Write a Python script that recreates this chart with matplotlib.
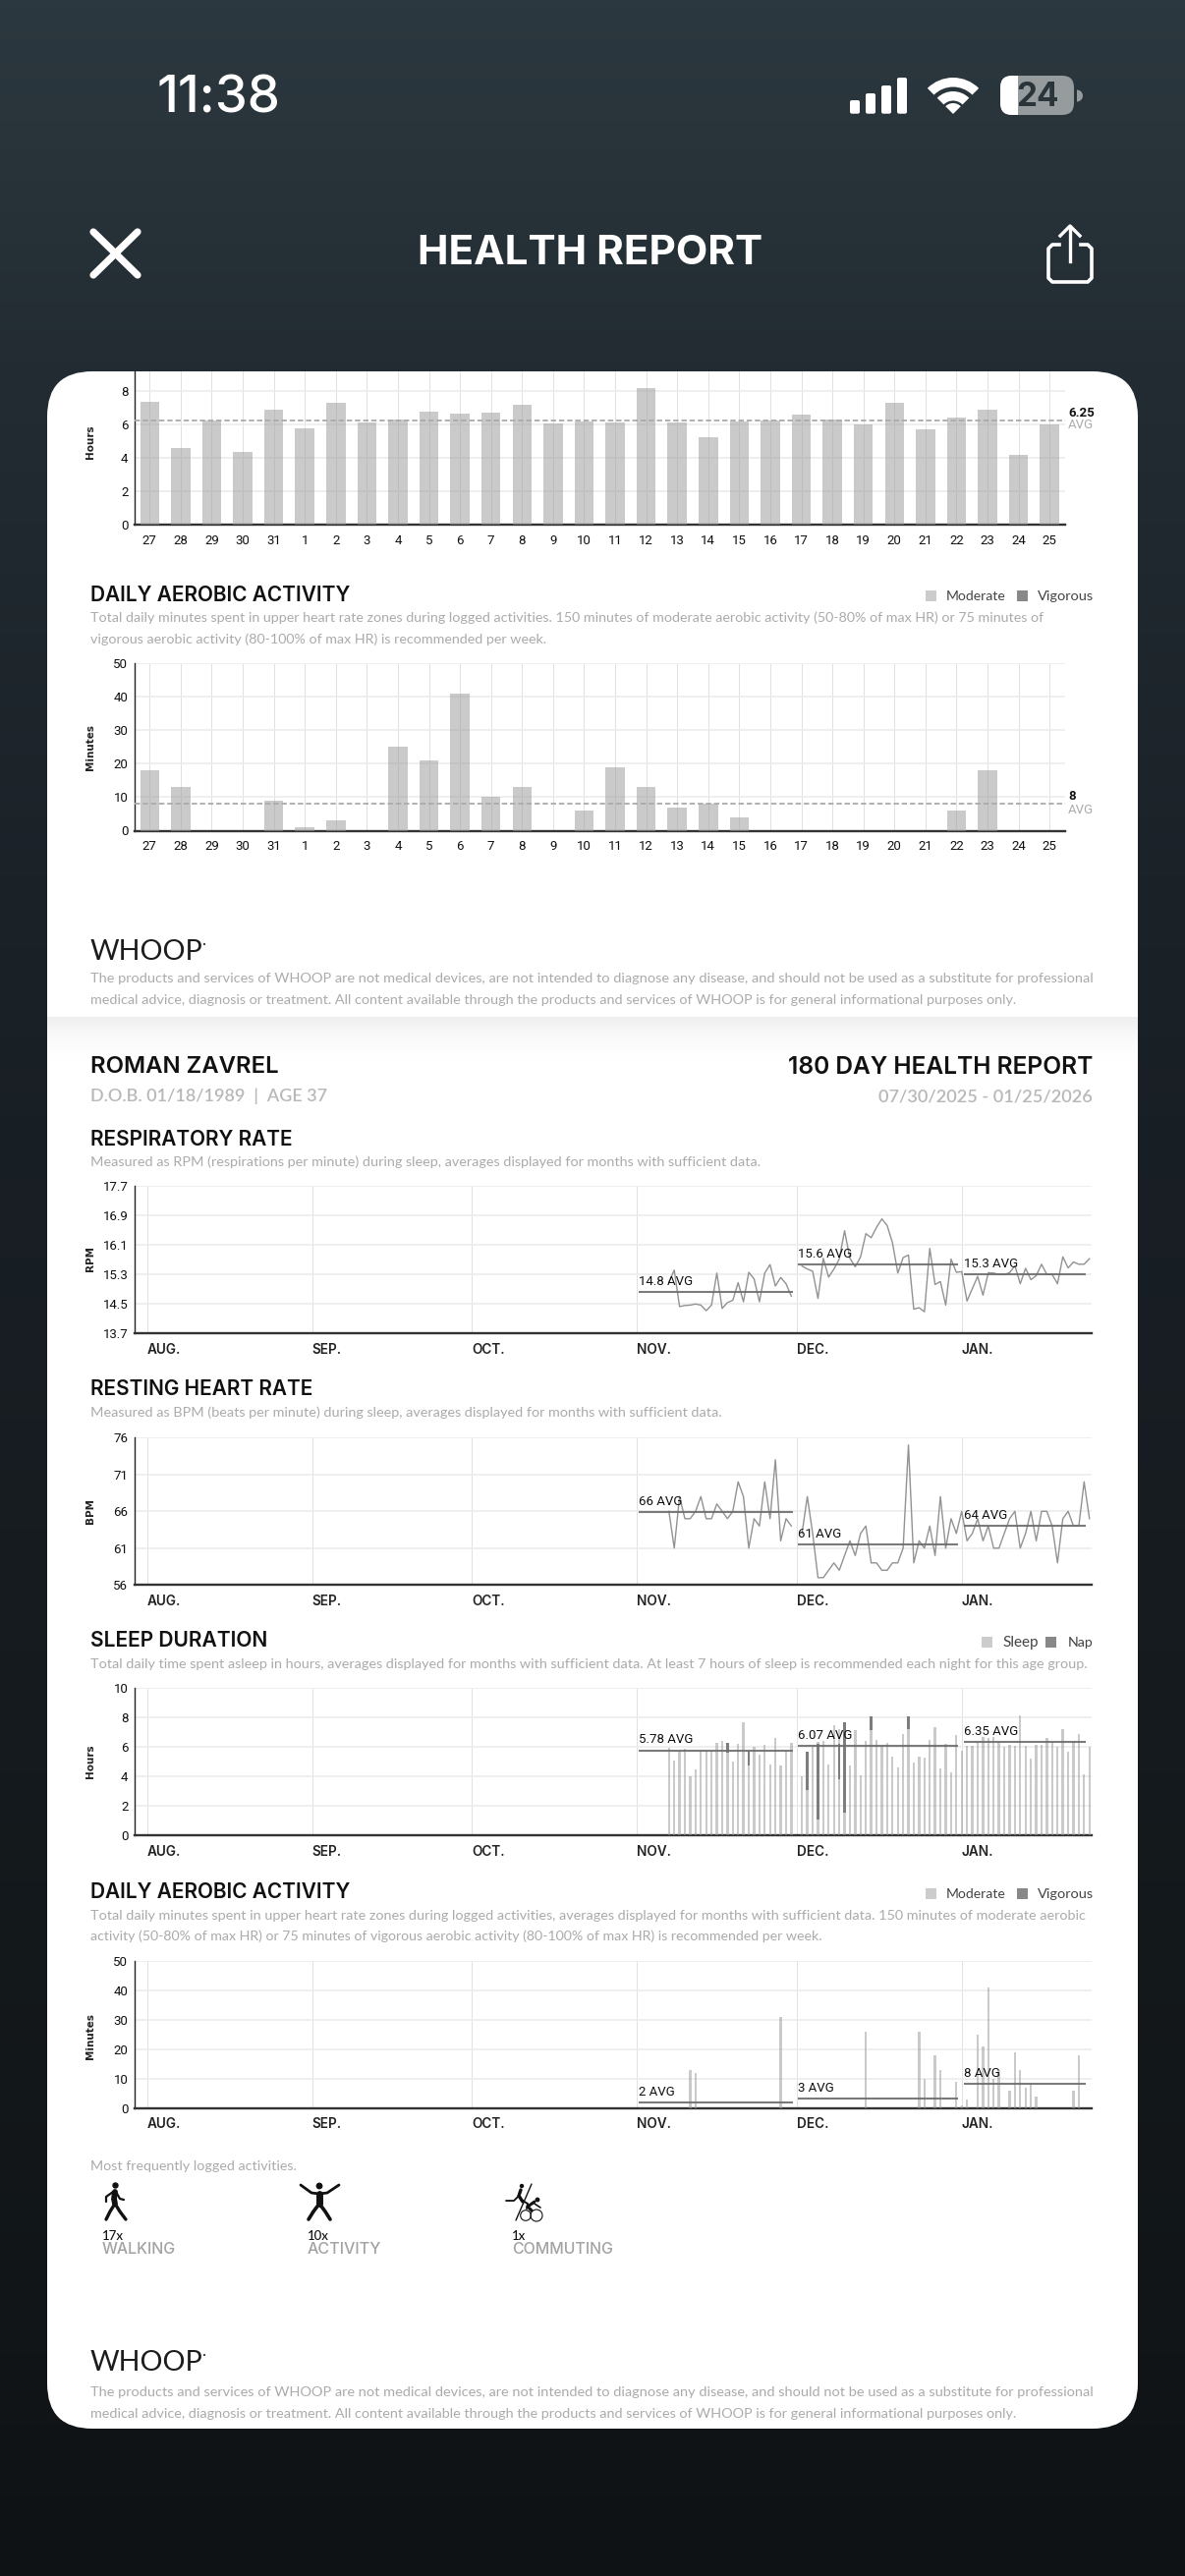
import numpy as np
import matplotlib
matplotlib.use("Agg")
import matplotlib.pyplot as plt
from matplotlib import font_manager as fm
from matplotlib.patches import FancyBboxPatch, Rectangle, Wedge, Circle
from matplotlib.colors import LinearSegmentedColormap

# ---------------- data ----------------
day_labels = [27,28,29,30,31,1,2,3,4,5,6,7,8,9,10,11,12,13,14,15,16,17,18,19,20,21,22,23,24,25]
hours_30 = [7.34,4.56,6.25,4.33,6.85,5.75,7.3,6.09,6.3,6.75,6.65,6.73,7.16,6.03,6.19,6.09,8.17,6.13,5.24,6.15,6.23,6.6,6.29,6.01,7.26,5.71,6.43,6.87,4.17,6.01]
aerobic_30 = [18,13,0,0,9,1,3,0,25,21,41,10,13,0,6,19,13,7,8,4,0,0,0,0,0,0,6,18,0,0]

month_labels = ["AUG.","SEP.","OCT.","NOV.","DEC.","JAN."]
month_days = [0,31,61,92,122,153]
avg_spans = [(92.4,121.3),(122.3,152.3),(153.35,176.3)]

resp_nov = [15.10,15.42,14.43,14.46,14.47,14.5,14.47,14.32,14.47,15.34,14.38,14.54,14.6,15.08,14.56,15.36,15.18,14.56,15.34,15.57,14.99,15.22,15.05,14.71]
resp_rest = [15.53,15.45,15.39,14.65,15.74,15.23,15.45,15.72,16.49,15.74,15.51,15.78,16.41,16.30,16.58,16.81,16.63,16.16,15.34,15.76,15.83,14.36,14.40,14.29,16.01,15.03,15.11,14.47,15.72,15.36,15.38,14.58,14.92,15.25,14.74,15.35,15.34,15.3,15.3,15.35,15.54,15.05,15.47,15.16,15.27,15.58,15.3,15.3,15.05,15.78,15.48,15.64,15.58,15.58,15.73]
resp_avg = [14.83,15.58,15.3]
resp_avg_labels = ["14.8 AVG","15.6 AVG","15.3 AVG"]
resp_ticks = [13.7,14.5,15.3,16.1,16.9,17.7]

hr_nov = [66,61,68,65,65,66,68,65,65,67,66,65,66,70,68,61,65,64,70,65,73,62,65,64]
hr_rest = [63,68,63,57,57,58,59,58,60,62,60,63,64,59,59,58,58,59,59,61,75,59,62,61,64,60,68,61,65,63,66,62,63,65,62,64,61,61,63,65,66,61,63,66,62,66,66,64,59,65,66,64,64,70,65]
hr_avg = [65.9,61.5,64]
hr_avg_labels = ["66 AVG","61 AVG","64 AVG"]
hr_ticks = [56,61,66,71,76]

sleep_nov = [5.93,5.07,5.73,5.89,4.04,4.49,5.78,5.78,5.78,6.31,6.44,6.29,5.02,6.22,7.67,5.73,6.0,5.47,6.16,4.82,6.6,4.73,5.78,6.31]
sleep_rest = [4.04,5.67,6.0,6.33,6.44,4.8,7.49,7.22,7.67,4.73,7.13,4.09,6.42,7.16,6.47,6.07,6.31,5.36,4.62,6.89,7.2,4.96,5.36,5.29,6.49,7.33,4.56,6.2,4.29,6.84,5.73,6.11,6.07,6.33,6.67,6.6,6.67,6.44,6.02,6.16,6.07,8.16,6.11,5.22,6.13,6.16,6.6,6.33,6.0,7.24,5.71,6.4,6.87,4.16,6.0]
nap_days = [109,113,124,126,130,131,136,143]
nap_low = [5.6,4.78,3.09,1.07,3.84,1.53,7.18,7.22]
nap_high = [6.29,5.73,5.67,6.22,6.22,7.67,8.09,8.09]
sleep_avg = [5.78,6.07,6.35]
sleep_avg_labels = ["5.78 AVG","6.07 AVG","6.35 AVG"]

aer_days = [102,103,119,135,145,146,148,149,152,153,154,156,157,158,159,160,162,163,164,165,166,167,174,175]
aer_vals = [13,12,31,26,26,10,18,13,9,1,3,25,21,41,10,13,6,19,13,7,8,4,6,18]
aer_avg = [1.9,3.3,8.1]
aer_avg_labels = ["2 AVG","3 AVG","8 AVG"]

activity_counts = ["17x","10x","1x"]
activity_names = ["WALKING","ACTIVITY","COMMUTING"]

# ---------------- page ----------------
W, H = 1206, 2622
fig = plt.figure(figsize=(W/100, H/100), dpi=100)
renderer = fig.canvas.get_renderer()
page = fig.add_axes([0, 0, 1, 1], zorder=0)
page.set_xlim(0, W); page.set_ylim(H, 0); page.axis("off")

stops = [(0,"#2c383f"),(370/H,"#232c33"),(960/H,"#1a2127"),(2400/H,"#111517"),(1,"#0e1214")]
cmap = LinearSegmentedColormap.from_list("bg", stops)
page.imshow(np.linspace(0,1,512)[:,None], cmap=cmap, extent=(0,W,H,0), aspect="auto", zorder=0)
page.set_xlim(0, W); page.set_ylim(H, 0)

page.add_patch(FancyBboxPatch((48+46,378+46),1110-92,2094-92,boxstyle="round,pad=46,rounding_size=46",fc="white",ec="none",zorder=1))
shade = LinearSegmentedColormap.from_list("sh",["#efefef","#fbfbfb","#ffffff"])
page.imshow(np.linspace(0,1,64)[:,None], cmap=shade, extent=(48,1158,1080,1035), aspect="auto", zorder=1.5)
page.set_xlim(0, W); page.set_ylim(H, 0)

LATO, ROBOTO, INTER = "Lato", "Roboto", "Inter"
try:
    fm.findfont("Liberation Sans Narrow", fallback_to_default=False)
    NARROW, TICK = "Liberation Sans Narrow", 11
except Exception:
    NARROW, TICK = "Roboto", 9.5

def T(x, y, s, width=None, size=10, color="#111111", weight="normal", family=LATO, ha="left", rot=0, z=5):
    t = page.text(x, y, s, fontsize=size, color=color, fontweight=weight, family=family,
                  ha=ha, va="center", rotation=rot, zorder=z)
    if width is not None:
        w = t.get_window_extent(renderer).width
        t.set_fontsize(size * width / w)
    return t

GREY = "#ababab"
def heading(x, y, s, width, **k): return T(x, y+1.5, s, width=width, size=12, weight="semibold", color="#111111", family=INTER, **k)
def para(y, s, x1): return T(92, y+1, s, width=x1-92, size=8, color=GREY)

def swatch(x, y, c): page.add_patch(Rectangle((x, y-5.5), 11, 11, fc=c, ec="none", zorder=5))

def legend(y, items):
    for sx, c, tx, x1, lab in items:
        swatch(sx, y, c)
        T(tx, y+1, lab, width=x1-tx, size=8, color="#444444")

# status bar
T(159, 101, "11:38", width=126, size=30, color="white", weight="medium", family=INTER)
for x, top in zip([865,881,897,913],[102,95,87,79]):
    page.add_patch(FancyBboxPatch((x+2,top+2),6,115.7-top-4,boxstyle="round,pad=2,rounding_size=2",fc="white",ec="none",zorder=5))
for r, wd in [(37,9.5),(23,9.5)]:
    page.add_patch(Wedge((970,116),r,225,315,width=wd,fc="white",ec="none",zorder=5))
page.add_patch(Wedge((970,116),11,225,315,fc="white",ec="none",zorder=5))
page.add_patch(FancyBboxPatch((1030,89),51,16,boxstyle="round,pad=12,rounding_size=12",fc="#969b9e",ec="none",zorder=5))
bw = FancyBboxPatch((1030,89),51,16,boxstyle="round,pad=12,rounding_size=12",fc="white",ec="none",zorder=5.1)
page.add_patch(bw)
bw.set_clip_path(Rectangle((1015,70),21,55,transform=page.transData))
page.add_patch(Wedge((1096,97.5),6,270,90,fc="#969b9e",ec="none",zorder=5))
T(1056, 98.5, "24", size=24, color="#29343b", weight="bold", family=INTER, ha="center", z=6)

# nav
page.plot([95,140],[236,280],color="white",lw=5.2,solid_capstyle="round",zorder=5)
page.plot([140,95],[236,280],color="white",lw=5.2,solid_capstyle="round",zorder=5)
T(425, 258, "HEALTH REPORT", width=352, size=26, color="white", weight="bold", family=INTER)
page.plot([1078,1071,1067,1067,1071,1107,1111,1111,1107,1100],[249,249,253,283,287,287,283,253,249,249],color="white",lw=2.6,zorder=5)
page.plot([1089,1089],[231,266],color="white",lw=2.4,zorder=5)
page.plot([1079,1089,1099],[240,230,240],color="white",lw=2.4,zorder=5)

def axpx(l, t, r, b):
    a = fig.add_axes([l/W, 1-b/H, (r-l)/W, (b-t)/H], zorder=2)
    a.patch.set_alpha(0)
    for s in ("top","right"): a.spines[s].set_visible(False)
    a.set_axisbelow(True)
    a.spines["left"].set_linewidth(1.0); a.spines["left"].set_color("#222222")
    a.spines["bottom"].set_linewidth(1.7); a.spines["bottom"].set_color("#333333")
    a.tick_params(length=0, pad=4.4, labelcolor="#111111")
    return a

def style_grid(a):
    a.grid(axis="y", color="#ececec", lw=1.2)
    a.grid(axis="x", color="#e1e1e1", lw=0.7)

def ylab(y, s):
    T(92, y, s, size=7.5, color="#222222", family="DejaVu Sans", ha="center", rot=90, weight="bold")

BAR = "#9a9a9a"

def bars30(t, b, vals, ymax, yticks, avg, lab1, lab2, ylabel, ylab_y, ly1, ly2):
    a = axpx(136.5, t, 1084, b)
    x = np.arange(len(vals))
    a.bar(x, vals, width=0.62, color=BAR, alpha=0.52, zorder=3)
    a.axhline(avg, color="#aaaaaa", lw=1.3, ls=(0,(3,1.6)), zorder=4)
    a.set_xlim(-0.5, 29.5); a.set_ylim(0, ymax)
    a.set_xticks(x, [str(d) for d in day_labels], family=NARROW, fontsize=TICK)
    a.set_yticks(yticks, [str(v) for v in yticks], family=NARROW, fontsize=TICK)
    a.tick_params(axis="x", pad=7)
    style_grid(a)
    ylab(ylab_y, ylabel)
    T(1087, ly1, lab1, size=TICK, weight="bold", family=NARROW, color="#111111")
    T(1087, ly2, lab2, size=TICK, color=GREY, family=NARROW)

bars30(378, 534, hours_30, 9.17, [0,2,4,6,8], 6.25, "6.25", "AVG", "Hours", 449.6, 420, 433)

heading(92, 605, "DAILY AEROBIC ACTIVITY", 265)
legend(606, [(942,"#cccccc",963,1024,"Moderate"),(1035,"#888888",1056,1113,"Vigorous")])
para(628, "Total daily minutes spent in upper heart rate zones during logged activities. 150 minutes of moderate aerobic activity (50-80% of max HR) or 75 minutes of", 1066)
para(650, "vigorous aerobic activity (80-100% of max HR) is recommended per week.", 557)
bars30(675.4, 845.5, aerobic_30, 50, [0,10,20,30,40,50], 8, "8", "AVG", "Minutes", 761, 810.6, 824.5)

FOOT1 = "The products and services of WHOOP are not medical devices, are not intended to diagnose any disease, and should not be used as a substitute for professional"
FOOT2 = "medical advice, diagnosis or treatment. All content available through the products and services of WHOOP is for general informational purposes only."
def footer(y_logo, y1, y2):
    T(92, y_logo, "WHOOP", width=114, size=20, color="#1c1c1c", weight="normal")
    page.add_patch(Circle((208, y_logo-8), 1.1, fc="#333333", ec="none", zorder=5))
    para(y1, FOOT1, 1113)
    para(y2, FOOT2, 1037)
footer(969, 995, 1017)

# second page header
heading(92, 1085, "ROMAN ZAVREL", 192)
T(1112, 1086.5, "180 DAY HEALTH REPORT", width=310, size=14, weight="semibold", ha="right", family=INTER)
T(92, 1116, "D.O.B. 01/18/1989  |  AGE 37", width=240, size=10, color="#b8b8b8", weight="semibold")
T(1112, 1116, "07/30/2025 - 01/25/2026", width=217, size=10, color="#b8b8b8", weight="semibold", ha="right")

XL, XR = -2.47, 177.36
days_all = np.arange(98, 178)

def monthly(t, b, ylim, yticks, ylabels):
    a = axpx(136.5, t, 1110.7, b)
    a.set_xlim(XL, XR); a.set_ylim(*ylim)
    a.set_yticks(yticks, ylabels, family=NARROW, fontsize=TICK)
    a.set_xticks(month_days, month_labels, family=INTER, fontsize=9.8, fontweight="semibold", ha="left", color="#222222")
    a.tick_params(axis="x", pad=7)
    style_grid(a)
    return a

def avgs(a, vals, labels):
    for (x0, x1), v, lab in zip(avg_spans, vals, labels):
        a.plot([x0, x1], [v, v], color="#6d6d6d", lw=1.5, alpha=0.9, zorder=5, solid_capstyle="butt")
        a.annotate(lab, (x0, v), xytext=(0, 3), textcoords="offset points", fontsize=9.5,
                   family=ROBOTO, color="#111111", va="bottom", ha="left", zorder=6)

# respiratory rate
heading(92, 1158, "RESPIRATORY RATE", 206)
para(1182, "Measured as RPM (respirations per minute) during sleep, averages displayed for months with sufficient data.", 775)
ax = monthly(1207.3, 1357.3, (13.7, 17.7), resp_ticks, [f"{v:.1f}" for v in resp_ticks])
ax.plot(days_all, resp_nov+[np.nan]+resp_rest, color="#929292", lw=1.0, zorder=4)
avgs(ax, resp_avg, resp_avg_labels)
ylab(1281, "RPM")

# resting heart rate
heading(92, 1413, "RESTING HEART RATE", 226)
para(1437, "Measured as BPM (beats per minute) during sleep, averages displayed for months with sufficient data.", 736)
ax = monthly(1463.3, 1613.3, (56, 76), hr_ticks, [str(v) for v in hr_ticks])
ax.plot(days_all, hr_nov+[np.nan]+hr_rest, color="#929292", lw=1.0, zorder=4)
avgs(ax, hr_avg, hr_avg_labels)
ylab(1538, "BPM")

# sleep duration
heading(92, 1669, "SLEEP DURATION", 181)
legend(1671, [(999,"#cccccc",1020,1057,"Sleep"),(1064,"#888888",1087,1113,"Nap")])
para(1693, "Total daily time spent asleep in hours, averages displayed for months with sufficient data. At least 7 hours of sleep is recommended each night for this age group.", 1112)
ax = monthly(1718.3, 1868.3, (0, 10), [0,2,4,6,8,10], ["0","2","4","6","8","10"])
ax.bar(days_all, np.nan_to_num(sleep_nov+[np.nan]+sleep_rest), width=0.43, color=BAR, alpha=0.52, zorder=3)
ax.bar(nap_days, np.array(nap_high)-np.array(nap_low), bottom=nap_low, width=0.43, color="#7d7d7d", zorder=4)
avgs(ax, sleep_avg, sleep_avg_labels)
ylab(1793, "Hours")

# daily aerobic activity
heading(92, 1925, "DAILY AEROBIC ACTIVITY", 265)
legend(1927, [(942,"#cccccc",963,1024,"Moderate"),(1035,"#888888",1056,1113,"Vigorous")])
para(1949, "Total daily minutes spent in upper heart rate zones during logged activities, averages displayed for months with sufficient data. 150 minutes of moderate aerobic", 1108)
para(1970, "activity (50-80% of max HR) or 75 minutes of vigorous aerobic activity (80-100% of max HR) is recommended per week.", 841)
ax = monthly(1995.7, 2145.7, (0, 50), [0,10,20,30,40,50], ["0","10","20","30","40","50"])
ax.bar(aer_days, aer_vals, width=0.43, color=BAR, alpha=0.52, zorder=3)
avgs(ax, aer_avg, aer_avg_labels)
ylab(2072, "Minutes")

# activities
T(92.5, 2205, "Most frequently logged activities.", width=209.5, size=8, color=GREY)
INK = "#111111"
def stroke(xs, ys, lw): page.plot(xs, ys, color=INK, lw=lw, solid_capstyle="round", solid_joinstyle="round", zorder=5)
# walking
page.add_patch(Circle((117.5,2224.5),3.2,fc=INK,ec="none",zorder=5))
stroke([117,116,117],[2231,2238,2243],4.2)
stroke([117,112,108],[2243,2251,2259],2.4); stroke([117,122,128],[2243,2251,2259],2.4)
stroke([115,108,108],[2231,2236,2241],1.6); stroke([118,122,126],[2231,2238,2239],1.6)
# activity
page.add_patch(Circle((325,2225),3.4,fc=INK,ec="none",zorder=5))
stroke([306,317,325,333,345],[2224,2232,2233,2232,2224],2.0)
stroke([325,325],[2233,2243],5)
stroke([325,319,314],[2243,2251,2259],2.6); stroke([325,331,336],[2243,2251,2259],2.6)
# commuting
stroke([541,525],[2223,2260],1.0)
page.add_patch(Circle((531,2225),2.2,fc=INK,ec="none",zorder=5))
stroke([530,528,532],[2229,2235,2241],2.4); stroke([528,523,515],[2235,2240,2240],1.3); stroke([532,537,536],[2240,2243,2248],1.4)
page.add_patch(Circle((547,2239),2.4,fc=INK,ec="none",zorder=5))
stroke([544,537,541],[2241,2246,2250],2.2); stroke([544,550],[2243,2247],1.2)
for cx, r in [(535,5.3),(546,6)]:
    page.add_patch(Circle((cx,2255),r,fc="none",ec=INK,lw=0.8,zorder=5))

for x, c, n, x1 in zip([104,312.6,521], activity_counts, activity_names, [179,388,624]):
    T(x, 2276, c, size=9.5, color="#111111", weight="medium", family=NARROW if NARROW != "Roboto" else LATO)
    T(x, 2290, n, width=x1-x, size=9, color="#a3a3a3", weight="medium", family=INTER)

footer(2405, 2434, 2456)

fig.savefig("out.png", dpi=100)
